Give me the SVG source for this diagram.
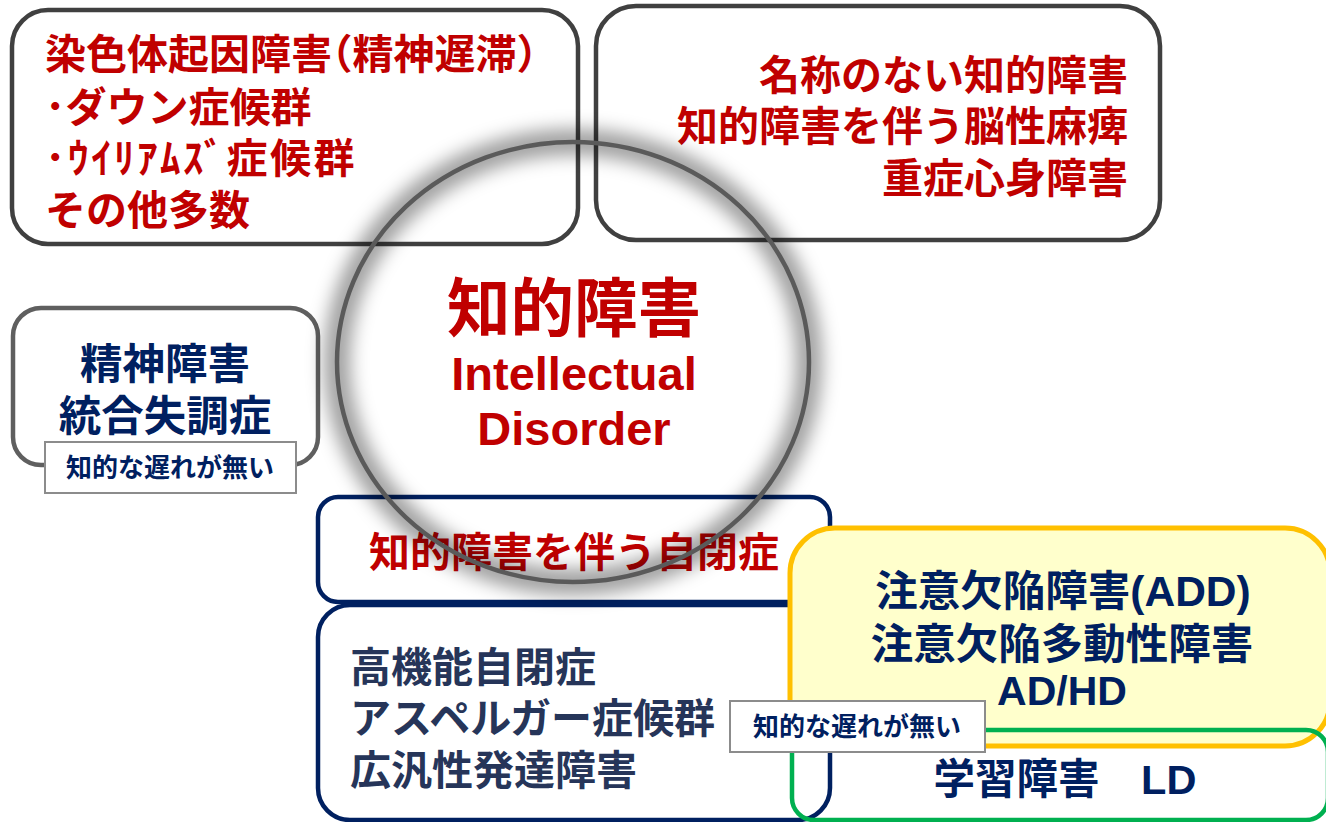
<svg xmlns="http://www.w3.org/2000/svg" width="1326" height="822" viewBox="0 0 1326 822">
<defs>
<style>
.t{font-family:"Liberation Sans","Noto Sans CJK JP",sans-serif;font-weight:bold;}
.red{fill:#C00000}
.navy{fill:#002060}
.slate{fill:#263559}
.h{font-feature-settings:"halt"}
.gbox{fill:#fff;stroke:#404040;stroke-width:4.5}
.nbox{fill:#fff;stroke:#002060;stroke-width:4.5}
.lbl{fill:#fff;stroke:#8c8c8c;stroke-width:2}
</style>
<filter id="blur" x="-20%" y="-20%" width="140%" height="140%"><feGaussianBlur stdDeviation="9"/></filter>
</defs>
<rect width="1326" height="822" fill="#fff"/>

<g id="chromosome">
<rect class="gbox" x="12" y="10" width="566" height="234" rx="36"/>
<text class="t red" font-size="41" x="45" y="69">染色体起因障害<tspan class="h">（</tspan>精神遅滞<tspan class="h">）</tspan></text>
<text class="t red" font-size="41" x="45" y="122">･ダウン症候群</text>
<text class="t red" font-size="41" x="45" y="173" letter-spacing="2.5">･ｳｲﾘｱﾑｽﾞ症候群</text>
<text class="t red" font-size="41" x="45" y="225">その他多数</text>
</g>

<g id="unnamed">
<rect class="gbox" x="596" y="6" width="564" height="234" rx="40"/>
<text class="t red" font-size="41" x="1128" y="90" text-anchor="end">名称のない知的障害</text>
<text class="t red" font-size="41" x="1128" y="141" text-anchor="end">知的障害を伴う脳性麻痺</text>
<text class="t red" font-size="41" x="1128" y="193" text-anchor="end">重症心身障害</text>
</g>

<g id="mental">
<rect x="13" y="308" width="305" height="157" rx="28" fill="#fff" stroke="#5f5f5f" stroke-width="4.5"/>
<text class="t navy" font-size="42.5" x="165" y="379" text-anchor="middle">精神障害</text>
<text class="t navy" font-size="42.5" x="165" y="431" text-anchor="middle">統合失調症</text>
</g>
<g id="label1">
<rect class="lbl" x="45" y="442" width="251" height="51"/>
<text class="t navy" font-size="26" x="170" y="477" text-anchor="middle">知的な遅れが無い</text>
</g>

<g id="autism-id">
<rect class="nbox" x="318" y="497" width="512" height="105" rx="20"/>
<text class="t red" font-size="41" x="574" y="567" text-anchor="middle">知的障害を伴う自閉症</text>
</g>
<g id="autism-hf">
<rect class="nbox" x="318" y="605" width="512" height="215" rx="32"/>
<text class="t slate" font-size="41" x="350" y="682">高機能自閉症</text>
<text class="t slate" font-size="41" x="350" y="733">アスペルガー症候群</text>
<text class="t slate" font-size="41" x="350" y="785">広汎性発達障害</text>
</g>

<g id="intellectual">
<ellipse cx="573" cy="362" rx="236" ry="220" fill="none" stroke="#000" stroke-opacity="0.38" stroke-width="26" filter="url(#blur)"/>
<ellipse cx="573" cy="362" rx="236" ry="220" fill="none" stroke="#5a5a5a" stroke-width="4.5"/>
<text class="t red" font-size="63.5" x="574" y="331" text-anchor="middle">知的障害</text>
<text class="t red" font-size="47" x="574" y="390" text-anchor="middle">Intellectual</text>
<text class="t red" font-size="47" x="574" y="445" text-anchor="middle">Disorder</text>
</g>

<g id="adhd">
<rect x="790" y="528" width="540" height="218" rx="45" fill="#FFFFCC" stroke="#FFC000" stroke-width="5"/>
<text class="t navy" font-size="42.5" x="1063" y="606" text-anchor="middle">注意欠陥障害(ADD)</text>
<text class="t navy" font-size="42.5" x="1062" y="659" text-anchor="middle">注意欠陥多動性障害</text>
<text class="t navy" font-size="41" x="1062" y="705" text-anchor="middle">AD/HD</text>
</g>

<g id="ld">
<rect x="792" y="730" width="536" height="90" rx="22" fill="none" stroke="#00B050" stroke-width="4.5"/>
<text class="t navy" font-size="41.5" x="1065" y="794" text-anchor="middle">学習障害　LD</text>
</g>

<g id="label2">
<rect class="lbl" x="730" y="701" width="255" height="51"/>
<text class="t navy" font-size="26" x="857" y="736" text-anchor="middle">知的な遅れが無い</text>
</g>

<g id="connectors"></g>
</svg>
